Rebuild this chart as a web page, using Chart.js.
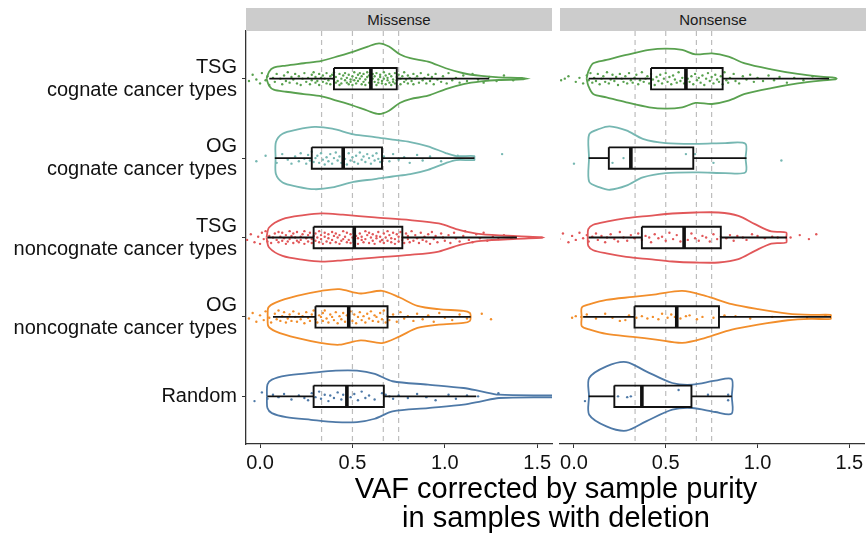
<!DOCTYPE html>
<html>
<head>
<meta charset="utf-8">
<script src="https://cdn.jsdelivr.net/npm/chart.js@4"></script>
<style>
body { margin: 0; background: #fff; font-family: "Liberation Sans", Arial, sans-serif; }
#wrap { position: relative; width: 868px; height: 534px; }
canvas { position: absolute; left: 0; top: 0; }
.strip { position: absolute; top: 8px; height: 23px; width: 306px; background: #cccccc; font-size: 15px; line-height: 23px; text-align: center; color: #1a1a1a; }
#xtitle { position: absolute; left: 246px; width: 620px; top: 474px; font-size: 29px; line-height: 29px; text-align: center; color: #000; }
</style>
</head>
<body>
<div id="wrap">
  <canvas id="left" width="868" height="534"></canvas>
  <canvas id="right" width="868" height="534"></canvas>
  <div class="strip" style="left:246px">Missense</div>
  <div class="strip" style="left:560px">Nonsense</div>
  <div id="xtitle">VAF corrected by sample purity<br>in samples with deletion</div>
</div>
<script>
const CATEGORIES = [
    ['TSG', 'cognate cancer types'],
    ['OG', 'cognate cancer types'],
    ['TSG', 'noncognate cancer types'],
    ['OG', 'noncognate cancer types'],
    'Random'
];
const COLORS = ['#59a14f', '#76b7b2', '#e15759', '#f28e2b', '#4e79a7'];
const X_TICKS = [0, 0.5, 1, 1.5];
const REF_LINES = [0.333, 0.5, 0.667, 0.75];

// box stats per category: [lower whisker, q1, median, q3, upper whisker]
const MIS_BOX = [
    [0.05, 0.40, 0.60, 0.74, 1.24],
    [0.08, 0.28, 0.45, 0.66, 1.16],
    [0.04, 0.29, 0.51, 0.77, 1.39],
    [0.07, 0.30, 0.48, 0.69, 1.14],
    [0.04, 0.29, 0.47, 0.67, 1.17]
];
const NON_BOX = [
    [0.08, 0.42, 0.61, 0.81, 1.39],
    [0.08, 0.19, 0.31, 0.65, 0.94],
    [0.08, 0.37, 0.60, 0.80, 1.16],
    [0.05, 0.33, 0.56, 0.79, 1.40],
    [0.08, 0.22, 0.37, 0.64, 0.86]
];

// violin outlines: [value, half width]
const MIS_VIOLIN = [
    [[0.035,0],[0.049,0.088],[0.074,0.139],[0.141,0.165],[0.237,0.194],[0.333,0.224],[0.429,0.287],[0.506,0.341],[0.583,0.404],[0.644,0.445],[0.698,0.404],[0.756,0.307],[0.813,0.257],[0.909,0.215],[1.005,0.131],[1.101,0.068],[1.197,0.034],[1.293,0.017],[1.418,0.01],[1.44,0]],
    [[0.084,0],[0.086,0.202],[0.122,0.307],[0.199,0.358],[0.295,0.392],[0.391,0.37],[0.506,0.299],[0.621,0.265],[0.717,0.232],[0.813,0.202],[0.909,0.148],[1.005,0.063],[1.063,0.025],[1.159,0.025],[1.16,0]],
    [[0.035,0],[0.049,0.126],[0.122,0.232],[0.237,0.282],[0.333,0.304],[0.448,0.287],[0.621,0.253],[0.813,0.219],[0.967,0.177],[1.082,0.093],[1.197,0.042],[1.389,0.017],[1.524,0.005],[1.53,0]],
    [[0.041,0],[0.045,0.118],[0.084,0.181],[0.199,0.265],[0.333,0.329],[0.429,0.35],[0.545,0.295],[0.66,0.329],[0.756,0.244],[0.852,0.139],[0.967,0.097],[1.101,0.076],[1.136,0.05],[1.14,0]],
    [[0.037,0],[0.04,0.148],[0.064,0.211],[0.141,0.261],[0.276,0.295],[0.41,0.324],[0.525,0.324],[0.621,0.282],[0.717,0.19],[0.909,0.148],[1.101,0.105],[1.197,0.063],[1.293,0.021],[1.572,0.012],[1.6,0.01]]
];
const NON_VIOLIN = [
    [[0.069,0],[0.078,0.088],[0.105,0.193],[0.177,0.235],[0.285,0.298],[0.41,0.361],[0.5,0.378],[0.59,0.361],[0.662,0.306],[0.752,0.319],[0.842,0.277],[0.931,0.193],[1.075,0.118],[1.219,0.059],[1.345,0.025],[1.425,0.01],[1.43,0]],
    [[0.082,0],[0.083,0.298],[0.141,0.369],[0.195,0.399],[0.285,0.348],[0.375,0.243],[0.5,0.189],[0.68,0.18],[0.824,0.189],[0.934,0.18],[0.935,0]],
    [[0.075,0],[0.078,0.105],[0.105,0.16],[0.177,0.2],[0.285,0.243],[0.41,0.273],[0.536,0.302],[0.662,0.315],[0.788,0.315],[0.896,0.273],[0.986,0.168],[1.075,0.076],[1.156,0.063],[1.157,0]],
    [[0.042,0],[0.043,0.118],[0.087,0.16],[0.177,0.214],[0.321,0.252],[0.447,0.285],[0.59,0.327],[0.716,0.264],[0.86,0.16],[1.003,0.097],[1.165,0.042],[1.291,0.025],[1.398,0.025],[1.399,0]],
    [[0.082,0],[0.083,0.231],[0.177,0.378],[0.285,0.432],[0.393,0.315],[0.536,0.168],[0.644,0.147],[0.77,0.197],[0.859,0.218],[0.86,0]]
];

// jittered points: value*100, vertical jitter*100 (pairs)
const MIS_POINTS = [
    [-6,3,-4,-5,-2,1,0,6,1,-7,3,2,4,-3,5,8,7,-1,8,4,9,-6,11,0,12,7,13,-4,14,3,15,-8,16,5,17,-2,18,1,19,-6,20,6,21,-3,22,8,23,0,24,-7,25,4,26,-1,27,7,28,-5,28,2,29,-8,30,5,30,-2,31,3,32,-6,32,8,33,-1,34,4,34,-4,35,0,36,6,36,-7,37,2,38,-3,38,7,39,-5,40,1,40,-8,41,5,41,-2,42,3,43,8,43,-6,44,0,44,6,45,-4,46,2,46,-7,47,5,47,-1,48,7,48,-5,49,1,49,4,50,-3,50,8,51,-8,51,2,52,-1,52,6,53,-5,53,3,54,0,54,-7,55,7,55,-3,56,4,56,-6,57,1,57,8,58,-2,58,-8,59,5,59,-4,60,2,60,7,61,-6,61,0,62,4,62,-3,63,8,63,-7,64,1,64,5,65,-2,65,-5,66,6,66,3,67,-8,67,0,68,7,68,-4,69,2,69,-1,70,5,70,-6,71,8,71,-3,72,1,72,4,73,-7,73,6,74,-2,74,2,75,-5,76,7,76,0,77,-3,78,4,78,-8,79,1,80,6,80,-4,81,-1,82,3,83,-6,83,7,84,0,85,-3,86,5,87,-7,88,2,89,-1,90,6,91,-5,92,3,93,-2,94,7,95,-6,96,1,98,4,99,-3,101,6,102,-7,104,2,106,-1,108,5,110,-4,112,3,115,-6,118,1,121,5,124,-2,128,3,132,-4,137,2],
    [-2,4,3,-3,9,6,12,-5,15,2,17,7,19,-2,21,4,22,-6,24,1,25,7,26,-4,27,3,28,-8,29,5,30,0,31,-3,32,6,33,-6,34,2,35,8,36,-1,37,4,38,-5,39,7,40,0,41,-7,42,3,43,-2,44,6,45,-4,46,1,47,8,48,-6,49,3,50,-1,51,5,52,-3,53,7,54,-7,55,2,56,-2,57,5,58,-5,59,0,60,7,61,-3,62,3,63,-6,64,1,65,5,67,-2,70,4,72,-5,75,2,78,-1,81,6,85,-4,88,3,92,-2,98,4,107,-3,131,-5],
    [-7,3,-5,-4,-3,6,-1,-1,0,8,1,-6,2,2,3,-8,4,5,5,-2,6,7,7,0,8,-5,9,3,10,-7,10,6,11,-1,12,4,12,-6,13,1,14,8,14,-3,15,5,16,-8,16,2,17,-2,18,7,18,-5,19,0,20,4,20,-7,21,6,22,-1,22,3,23,-4,24,8,24,-8,25,1,26,-3,26,5,27,-6,28,2,28,7,29,-2,30,-5,30,4,31,0,32,-8,32,6,33,-3,33,2,34,8,35,-6,35,-1,36,5,37,-4,37,1,38,7,39,-7,39,3,40,-2,41,6,41,-5,42,0,43,8,43,-3,44,4,45,-8,45,2,46,-1,47,6,47,-6,48,3,49,-4,49,7,50,0,51,-7,51,5,52,-2,53,1,53,8,54,-5,55,3,55,-1,56,6,57,-8,57,2,58,-3,59,7,59,-6,60,0,61,4,61,-4,62,8,63,-2,63,1,64,-7,65,5,65,-1,66,3,67,-5,67,7,68,0,69,-8,69,4,70,-3,71,6,71,1,72,-6,73,2,73,8,74,-4,75,-1,75,5,76,-7,77,3,77,0,78,7,79,-5,80,2,80,-2,81,6,82,-8,83,4,84,-3,85,1,86,7,87,-6,88,3,89,-1,90,5,91,-4,92,8,93,-7,94,2,95,-2,96,6,98,-5,99,0,100,4,102,-3,103,7,105,-6,106,1,108,5,110,-2,111,-8,113,3,115,6,117,-4,119,1,121,-6,123,4,126,-1,129,2,132,-3,136,1],
    [-6,2,-4,-5,-2,6,0,-2,2,4,3,-7,5,1,6,7,8,-4,9,3,10,-8,11,5,12,-1,13,-6,14,7,15,2,16,-3,17,5,18,-7,19,0,20,6,21,-4,22,3,23,-1,24,8,25,-6,26,1,27,5,28,-3,29,-8,30,3,31,7,32,-2,33,0,34,-5,34,5,35,-8,36,2,37,7,38,-3,39,0,40,4,41,-6,42,8,43,-1,44,3,45,-5,46,6,47,-2,48,1,49,-7,50,5,51,-3,52,8,53,0,54,-6,55,4,56,-1,57,7,58,-4,59,2,60,-7,61,5,62,-2,63,0,64,6,65,-5,66,3,67,-8,68,7,69,-1,70,4,72,-3,74,6,76,-6,78,2,80,-1,83,5,85,-4,88,3,91,-2,94,6,97,-5,100,1,104,4,108,-3,112,2,120,-4,125,3],
    [-3,6,1,-5,4,3,7,-2,10,1,13,-3,17,4,21,-1,24,2,26,5,28,-4,30,1,32,-6,33,3,35,-2,37,6,38,-1,40,2,42,-5,44,4,45,-2,47,7,49,1,51,-3,53,5,55,-6,57,2,59,-1,62,4,66,-4,68,-2,70,0,72,3,75,-1,80,2,85,-3,90,1,95,5,102,-2,106,3,112,-1,118,0,129,-4]
];
const NON_POINTS = [
    [-7,2,-5,0,-3,-3,1,4,3,-1,5,6,7,-4,8,2,9,-7,10,5,11,-1,12,3,13,-6,14,7,15,0,16,-3,17,4,18,-8,19,6,20,1,21,-5,22,3,23,-2,24,8,25,-6,26,0,27,4,28,-3,29,6,30,-7,31,2,32,5,33,-1,34,-5,35,7,36,2,37,-8,38,4,39,0,40,-3,41,6,42,-6,43,1,44,8,45,-2,46,3,47,-5,48,6,49,0,50,-7,51,4,52,-2,53,7,54,-4,55,1,56,5,57,-8,58,3,59,-1,60,6,61,-5,62,0,63,4,64,-3,65,7,66,-6,67,2,68,-1,69,5,70,-4,71,8,72,0,73,-7,74,3,75,-2,76,6,77,-5,78,1,79,4,80,-3,81,7,82,-8,83,2,84,5,85,-1,87,-6,88,3,90,6,92,-3,94,1,96,-5,98,4,100,-1,103,3,106,-4,109,2,112,-2,116,5,120,-1,125,2,130,-3],
    [0,7,21,6,27,0,61,-5,66,-5,76,6,113,3],
    [-12,-4,-8,2,-6,-5,-3,6,-1,-2,1,3,3,-6,5,1,7,-3,8,5,10,-1,12,-5,13,3,15,-2,17,6,18,0,20,-4,22,2,24,5,25,-7,27,0,29,4,31,-3,33,1,35,-5,37,3,39,-2,41,0,42,6,44,-4,46,1,48,-1,50,4,52,-6,54,2,56,-3,58,5,60,-1,62,3,64,-5,66,1,68,4,70,-2,72,0,74,5,76,-4,78,2,80,-1,83,1,85,-3,87,4,89,-2,92,0,94,3,97,-4,100,-2,104,1,108,-1,111,0,118,0,123,-3,128,2,132,-4],
    [-1,1,1,-1,4,0,7,-3,12,2,17,-4,21,1,25,5,28,4,30,-2,34,1,37,-1,40,2,43,0,46,3,48,-4,51,1,53,-3,55,0,58,2,61,-1,63,-2,67,3,70,0,76,1,82,-2,88,-1,96,2,108,0,127,1,137,-2],
    [6,6,24,0,29,1,31,0,57,-8,73,-2,84,-2,84,5]
];

const X_MIN = -0.076, X_MAX = 1.58;
const Y_MIN = 0.4, Y_MAX = 5.6;
const BOX_H = 0.135;

function line(data, color, width, order, extra) {
    return Object.assign({data, borderColor: color, borderWidth: width, pointRadius: 0, showLine: true, tension: 0, order}, extra || {});
}

function buildDatasets(violins, boxes, points) {
    const out = [];
    REF_LINES.forEach(v => {
        out.push(line([{x: v, y: Y_MIN}, {x: v, y: Y_MAX}], '#bdbdbd', 1.2, 50, {borderDash: [5, 4]}));
    });
    violins.forEach((prof, i) => {
        const c = i + 1;
        const top = prof.map(([x, w]) => ({x, y: c - w}));
        const bot = prof.slice().reverse().map(([x, w]) => ({x, y: c + w}));
        out.push(line([...top, ...bot, top[0]], COLORS[i], 1.8, 40, {tension: 0.3}));
    });
    points.forEach((arr, i) => {
        const c = i + 1;
        const data = [];
        for (let k = 0; k < arr.length; k += 2) data.push({x: arr[k] / 100, y: c + arr[k + 1] / 100});
        out.push({data, backgroundColor: COLORS[i], pointRadius: 1.2, borderWidth: 0, showLine: false, order: 30});
    });
    boxes.forEach(([lo, q1, med, q3, hi], i) => {
        const c = i + 1;
        out.push(line([{x: q1, y: c - BOX_H}, {x: q3, y: c - BOX_H}, {x: q3, y: c + BOX_H}, {x: q1, y: c + BOX_H}, {x: q1, y: c - BOX_H}], '#111', 1.9, 20));
        out.push(line([{x: lo, y: c}, {x: q1, y: c}], '#111', 1.8, 20));
        out.push(line([{x: q3, y: c}, {x: hi, y: c}], '#111', 1.8, 20));
        out.push(line([{x: med, y: c - BOX_H}, {x: med, y: c + BOX_H}], '#111', 3.6, 10));
    });
    return out;
}

function makeChart(id, violins, boxes, points, showY) {
    new Chart(document.getElementById(id), {
        type: 'scatter',
        data: {datasets: buildDatasets(violins, boxes, points)},
        options: {
            responsive: false,
            animation: false,
            events: [],
            layout: {padding: showY ? {left: 0, right: 316, top: 31, bottom: 0} : {left: 560, right: 2, top: 31, bottom: 0}},
            plugins: {legend: {display: false}, tooltip: {enabled: false}},
            scales: {
                x: {
                    type: 'linear', min: X_MIN, max: X_MAX,
                    afterBuildTicks: s => { s.ticks = X_TICKS.map(v => ({value: v})); },
                    afterFit: s => { s.height = 90; },
                    ticks: {callback: v => v.toFixed(1), font: {size: 20}, color: '#111', padding: 3, maxRotation: 0, autoSkip: false},
                    grid: {drawOnChartArea: false, drawTicks: true, tickLength: 4, color: '#333'},
                    border: {display: true, color: '#333', width: 1.3}
                },
                y: {
                    type: 'linear', display: showY, reverse: true, min: Y_MIN, max: Y_MAX,
                    afterBuildTicks: s => { s.ticks = CATEGORIES.map((_, i) => ({value: i + 1})); },
                    afterFit: s => { if (showY) s.width = 246; },
                    ticks: {callback: v => CATEGORIES[v - 1], font: {size: 20, lineHeight: 1.15}, color: '#111', padding: 5, autoSkip: false},
                    grid: {drawOnChartArea: false, drawTicks: true, tickLength: 4, color: '#333'},
                    border: {display: true, color: '#333', width: 1.3}
                }
            }
        }
    });
}

Chart.defaults.font.family = '"Liberation Sans", Arial, sans-serif';
makeChart('left', MIS_VIOLIN, MIS_BOX, MIS_POINTS, true);
makeChart('right', NON_VIOLIN, NON_BOX, NON_POINTS, false);
</script>
</body>
</html>
